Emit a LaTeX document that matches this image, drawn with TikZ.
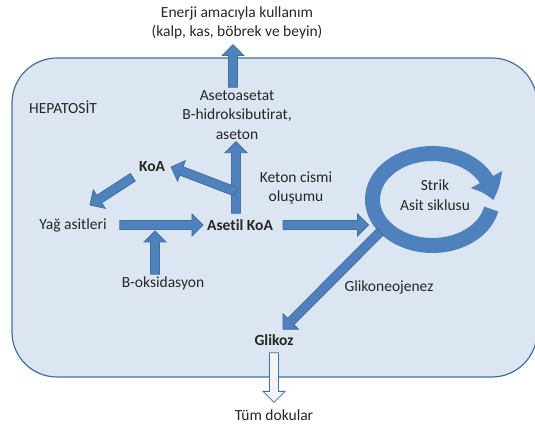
\documentclass[tikz,border=0pt]{standalone}
\usepackage{fontspec}
\setmainfont{Carlito}[Ligatures=NoCommon]
\usetikzlibrary{arrows.meta, bending, calc, positioning}
\definecolor{cellfill}{HTML}{DCE6F2}
\definecolor{arrowblue}{HTML}{4F81BD}
\definecolor{edgeblue}{HTML}{41719C}

\tikzset{
  txt/.style={font=\fontsize{15.5}{19.5}\selectfont, align=center, inner sep=2pt, text=black!85},
  boldtxt/.style={txt, font=\fontsize{15.5}{19.5}\selectfont\bfseries},
  blockarr/.style={fill=arrowblue, draw=edgeblue, line width=0.8pt, line join=miter},
  hollowarr/.style={fill=cellfill!40!white, draw=edgeblue, line width=0.8pt}
}

% block arrow from #2 to #3
\newcommand{\blockarrow}[3][]{%
  \coordinate (ba-s) at (#2);
  \coordinate (ba-t) at (#3);
  \coordinate (ba-h) at ($(ba-t)!11pt!(ba-s)$);
  \filldraw[blockarr, #1] ($(ba-s)!4.5pt!90:(ba-t)$) -- ($(ba-h)!4.5pt!90:(ba-t)$)
    -- ($(ba-h)!11pt!90:(ba-t)$) -- (ba-t) -- ($(ba-h)!11pt!-90:(ba-t)$)
    -- ($(ba-h)!4.5pt!-90:(ba-t)$) -- ($(ba-s)!4.5pt!-90:(ba-t)$) -- cycle;
}

\begin{document}
\begin{tikzpicture}[x=1pt, y=1pt]
  \useasboundingbox (0,0) rectangle (535,427);

  % hepatocyte
  \draw[edgeblue, fill=cellfill, line width=1.2pt, rounded corners=45pt] (12,50) rectangle (537,369);
  \node[txt, anchor=west] (hepatosit) at (27,320) {HEPATOSİT};

  % texts
  \node[txt] (enerji) at (237,404) {Enerji amacıyla kullanım\\(kalp, kas, böbrek ve beyin)};
  \node[txt] (keton) at (237,312) {Asetoasetat\\B-hidroksibutirat,\\aseton};
  \node[boldtxt] (koa) at (152,260) {KoA};
  \node[txt] (olusum) at (296,239) {Keton cismi\\oluşumu};
  \node[txt] (yag) at (73,202) {Yağ asitleri};
  \node[boldtxt] (asetil) at (240,202) {Asetil KoA};
  \node[txt] (krebs) at (435,232) {Strik\\Asit siklusu};
  \node[txt] (boks) at (163,144) {B-oksidasyon};
  \node[txt] (glikoneo) at (389,140) {Glikoneojenez};
  \node[boldtxt] (glikoz) at (274,87) {Glikoz};
  \node[txt] (tum) at (274,12) {Tüm dokular};

  % citric acid cycle
  \coordinate (halka) at (432.5,227.5);
  \draw[arrowblue, line width=15pt, -{Triangle[width=34pt, length=22pt, bend]}]
    (halka) ++(-12:60 and 46) arc[start angle=-12, end angle=-361, x radius=60, y radius=46];

  % arrows
  \coordinate (ketonIn) at ([xshift=-4pt, yshift=4pt]asetil.north);
  \coordinate (dal) at ($(ketonIn)!0.3!(ketonIn |- keton.south)$);
  \blockarrow{[xshift=-4pt, yshift=1pt]keton.north}{[xshift=-4pt, yshift=-3pt]keton.north |- enerji.south}
  \blockarrow{ketonIn}{ketonIn |- keton.south}
  \blockarrow{dal}{[xshift=4pt]koa.east}
  \blockarrow{[xshift=-4pt, yshift=-3pt]koa.south west}{$(yag.north)+(17,11)$}
  \blockarrow{[xshift=11pt]yag.east}{[xshift=-2pt]yag.east -| asetil.west}
  \blockarrow{[xshift=-8pt]boks.north}{[xshift=-8pt, yshift=-6pt]boks.north |- yag.east}
  \blockarrow{[xshift=8pt]asetil.east}{[xshift=-64pt]halka |- asetil.east}
  \blockarrow{$(halka)+(-52.5,-32.5)$}{$(glikoz.north)+(9,3)$}
  \blockarrow[hollowarr]{[yshift=-5pt]glikoz.south}{[yshift=5pt]tum.north}
\end{tikzpicture}
\end{document}
